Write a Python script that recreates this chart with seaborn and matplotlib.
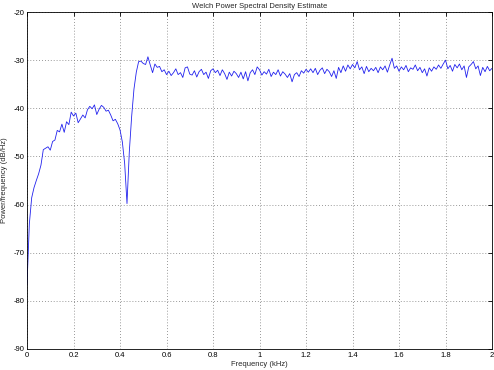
import numpy as np
import pandas as pd
import matplotlib
matplotlib.use("Agg")
import matplotlib.pyplot as plt
import seaborn as sns

title = "Welch Power Spectral Density Estimate"
xlabel = "Frequency (kHz)"
ylabel = "Power/frequency (dB/Hz)"
xticks = [0, 0.2, 0.4, 0.6, 0.8, 1, 1.2, 1.4, 1.6, 1.8, 2]
xticklabels = ["0", "0.2", "0.4", "0.6", "0.8", "1", "1.2", "1.4", "1.6", "1.8", "2"]
yticks = [-90, -80, -70, -60, -50, -40, -30, -20]

psd_db = [
    -76.6, -64.0, -58.6, -56.5, -55.0, -53.6, -51.8, -48.6, -48.3, -48.0,
    -48.7, -46.9, -46.6, -44.6, -44.9, -43.3, -45.0, -42.8, -43.4, -40.8,
    -41.6, -41.0, -43.0, -42.2, -41.4, -42.0, -40.3, -39.6, -40.1, -39.3,
    -41.3, -40.2, -39.4, -39.8, -40.6, -40.4, -41.4, -42.6, -42.3, -43.2,
    -44.5, -47.0, -51.5, -59.8, -49.0, -41.7, -36.0, -32.5, -30.3, -30.2,
    -30.7, -30.9, -29.3, -31.0, -32.6, -30.8, -31.5, -31.3, -32.4, -32.0,
    -33.0, -32.3, -33.2, -32.6, -31.8, -33.0, -32.6, -33.6, -31.6, -31.4,
    -32.9, -33.1, -32.2, -33.5, -32.4, -31.9, -33.0, -32.5, -33.8, -32.2,
    -31.8, -32.6, -32.1, -33.2, -32.0, -32.8, -34.0, -32.5, -33.3, -32.3,
    -32.8, -33.6, -32.5, -33.9, -32.4, -34.3, -32.6, -32.0, -33.0, -31.4,
    -32.0, -33.1, -32.4, -32.9, -31.9, -33.4, -32.5, -33.0, -32.0, -33.3,
    -32.4, -32.9, -33.6, -32.8, -34.5, -33.0, -32.6, -33.4, -32.2, -32.7,
    -31.9, -32.5, -31.8, -32.6, -31.7, -33.0, -32.1, -31.6, -32.8, -31.9,
    -32.4, -33.4, -32.2, -33.8, -31.5, -32.6, -31.2, -32.3, -31.0, -31.8,
    -30.9, -31.6, -30.3, -32.0, -31.4, -32.8, -31.3, -32.4, -31.7, -32.2,
    -31.5, -32.6, -31.4, -32.0, -31.2, -32.5, -31.0, -29.6, -31.7, -31.2,
    -32.3, -31.4, -32.0, -31.1, -32.4, -31.6, -31.9, -31.0, -32.2, -31.5,
    -32.6, -31.8, -33.3, -31.6, -32.3, -31.4, -31.9, -31.0, -31.7, -30.8,
    -30.0, -31.8, -31.1, -32.3, -30.9, -31.6, -30.8, -32.0, -31.2, -33.6,
    -31.4, -30.9, -30.3, -31.8, -31.2, -33.2, -31.5, -32.4, -31.3, -32.2,
    -31.7,
]
freq_khz = np.linspace(0, 2, len(psd_db))

df = pd.DataFrame({"freq": freq_khz, "psd": psd_db})

sns.set_style("white")
plt.rcParams["font.family"] = ["Liberation Sans", "DejaVu Sans"]

fig = plt.figure(figsize=(4.94, 3.70), dpi=100)
ax = fig.add_axes([0.0547, 0.057, 0.9413, 0.9105])

sns.lineplot(data=df, x="freq", y="psd", ax=ax, color="#2222ee", linewidth=0.6)

ax.set_xlim(0, 2)
ax.set_ylim(-90, -20)
ax.set_xticks(xticks)
ax.set_xticklabels(xticklabels)
ax.set_yticks(yticks)
ax.set_yticklabels([str(t) for t in yticks])
ax.grid(True, linestyle=(0, (1, 2.5)), color="#777777", linewidth=0.6)
ax.tick_params(direction="in", length=3, width=0.6, labelsize=5.5, colors="black",
               top=True, right=True, pad=2)
for s in ax.spines.values():
    s.set_color("black")
    s.set_linewidth(0.6)
    s.set_visible(True)
ax.set_xlabel(xlabel, fontsize=5.5, labelpad=2)
ax.set_ylabel(ylabel, fontsize=5.5, labelpad=4)
ax.set_title(title, fontsize=5.5, pad=3)

fig.savefig("out.png", dpi=100)
